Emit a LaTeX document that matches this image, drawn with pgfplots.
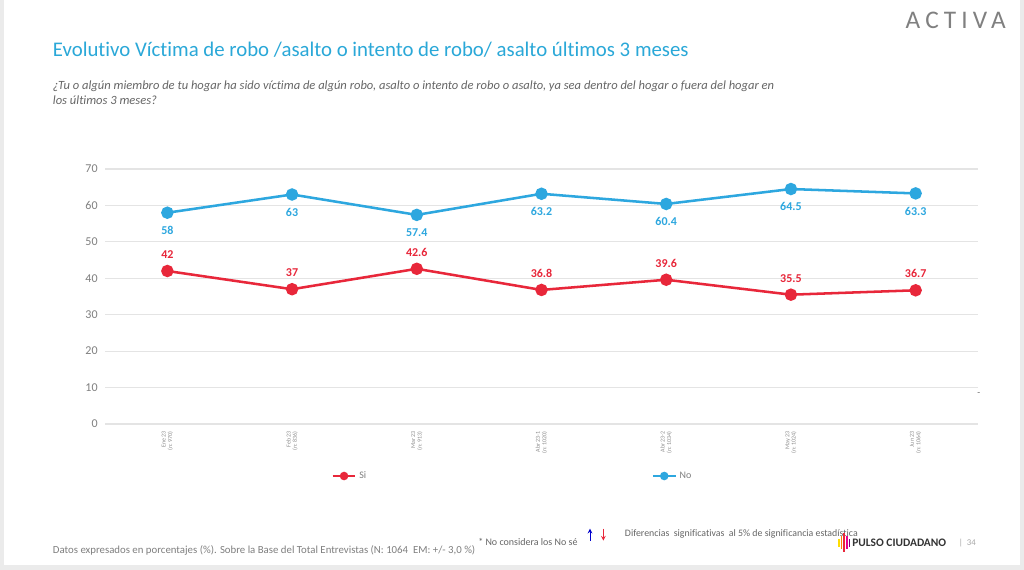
\documentclass[border=0pt]{standalone}
\usepackage{pgfplots}
\pgfplotsset{compat=1.18}
\usepackage{fontspec}
\setmainfont[Ligatures=NoCommon]{Carlito}
\newfontfamily\logofont[LetterSpace=20]{Carlito}
\definecolor{blueC}{HTML}{2DA7DF}
\definecolor{redC}{HTML}{E8273A}
\definecolor{titleC}{HTML}{2AA8D8}
\definecolor{txtgray}{HTML}{7F7F7F}
\definecolor{gridC}{HTML}{E4E4E4}
\begin{document}
\begin{tikzpicture}[x=1pt,y=1pt]
% slide frame
\fill[black!8] (0,0) rectangle (768,427.5);
\fill[white] (3,3.5) rectangle (765,427.5);
% header
\node[anchor=east,text=black!50,font=\logofont\fontsize{19}{19}\selectfont,inner sep=0] at (754.5,412.5) {ACTIVA};
\node[anchor=west,text=titleC,font=\fontsize{15.6}{17}\selectfont,inner sep=0] at (39.5,390) {Evolutivo Víctima de robo /asalto o intento de robo/ asalto últimos 3 meses};
\node[anchor=north west,text=black!60,align=left,font=\itshape\fontsize{9.4}{11.3}\selectfont,inner sep=0] at (39.5,367) {¿Tu o algún miembro de tu hogar ha sido víctima de algún robo, asalto o intento de robo o asalto, ya sea dentro del hogar o fuera del hogar en\\los últimos 3 meses?};

\begin{axis}[
  at={(78.75pt,109.5pt)}, anchor=south west, scale only axis,
  width=654.75pt, height=191.25pt,
  xmin=-0.5, xmax=6.5, ymin=0, ymax=70,
  ytick={0,10,...,70},
  xtick={0,...,6},
  xticklabels={{Ene 23\\(n: 970)},{Feb 23\\(n: 836)},{Mar 23\\(n: 913)},{Abr 23-1\\(n: 1020)},{Abr 23-2\\(n: 1034)},{May 23\\(n: 1024)},{Jun 23\\(n: 1064)}},
  xticklabel style={rotate=90,anchor=east,align=right,text=black!45,font=\fontsize{4.5}{4.8}\selectfont,xshift=-2pt},
  yticklabel style={text=txtgray,font=\fontsize{9}{10}\selectfont,xshift=-2pt},
  /pgf/number format/assume math mode=true,
  axis line style={draw=none},
  tick style={draw=none},
  ymajorgrids, grid style={gridC,line width=0.8pt},
  legend columns=2,
  legend style={at={(0.467,-0.204)},anchor=center,draw=none,fill=none,
    font=\fontsize{7.5}{8}\selectfont,text=txtgray,
    /tikz/every even column/.append style={column sep=212pt}},
  legend image code/.code={\draw[#1,mark=none] (0cm,0cm) -- (0.6cm,0cm);
    \draw[#1,mark size=2.2pt] plot coordinates {(0.3cm,0cm)};},
  nodes near coords,
]
\addplot[redC, line width=1.9pt, mark=*, mark size=3.7pt,
  every node near coord/.append style={anchor=south,yshift=5pt,text=redC,font=\bfseries\fontsize{9}{10}\selectfont}]
coordinates {(0,42) (1,37) (2,42.6) (3,36.8) (4,39.6) (5,35.5) (6,36.7)};
\addlegendentry{Si}
\addplot[blueC, line width=1.9pt, mark=*, mark size=3.7pt,
  every node near coord/.append style={anchor=north,yshift=-6pt,text=blueC,font=\bfseries\fontsize{9}{10}\selectfont}]
coordinates {(0,58) (1,63) (2,57.4) (3,63.2) (4,60.4) (5,64.5) (6,63.3)};
\addlegendentry{No}
\end{axis}

\node[text=black!60,font=\fontsize{7}{8}\selectfont] at (734,132) {-};
% footer
\node[anchor=west,text=txtgray,inner sep=0,font=\fontsize{8.1}{9}\selectfont] at (39.5,15) {Datos expresados en porcentajes (\%). Sobre la Base del Total Entrevistas (N: 1064 \ EM: +/- 3,0 \%)};
\node[anchor=west,text=black!60,inner sep=0,font=\fontsize{7.5}{8}\selectfont] at (358.5,21) {* No considera los No sé};
\draw[blue!80!black,line width=0.6pt,-stealth] (442.5,22) -- (442.5,31);
\draw[redC,line width=0.6pt,-stealth] (452.5,31) -- (452.5,22);
\node[anchor=west,text=black!60,inner sep=0,font=\fontsize{7.4}{8}\selectfont] at (468.5,27) {Diferencias \ significativas \ al 5\% de significancia estadística};
\foreach \xx/\hh/\cc in {628.5/6/yellow!80!orange,630.5/10/orange,632.5/14/redC,634.5/10/magenta,636.5/6/violet}
  \fill[\cc] (\xx,20.5-\hh/2) rectangle ++(1.2,\hh);
\node[anchor=west,text=black!80,inner sep=0,font=\bfseries\fontsize{8.6}{9}\selectfont] at (639,20.5) {PULSO CIUDADANO};
\node[anchor=west,text=black!35,inner sep=0,font=\fontsize{6.6}{7}\selectfont] at (719,20.5) {| \ 34};
\end{tikzpicture}
\end{document}
